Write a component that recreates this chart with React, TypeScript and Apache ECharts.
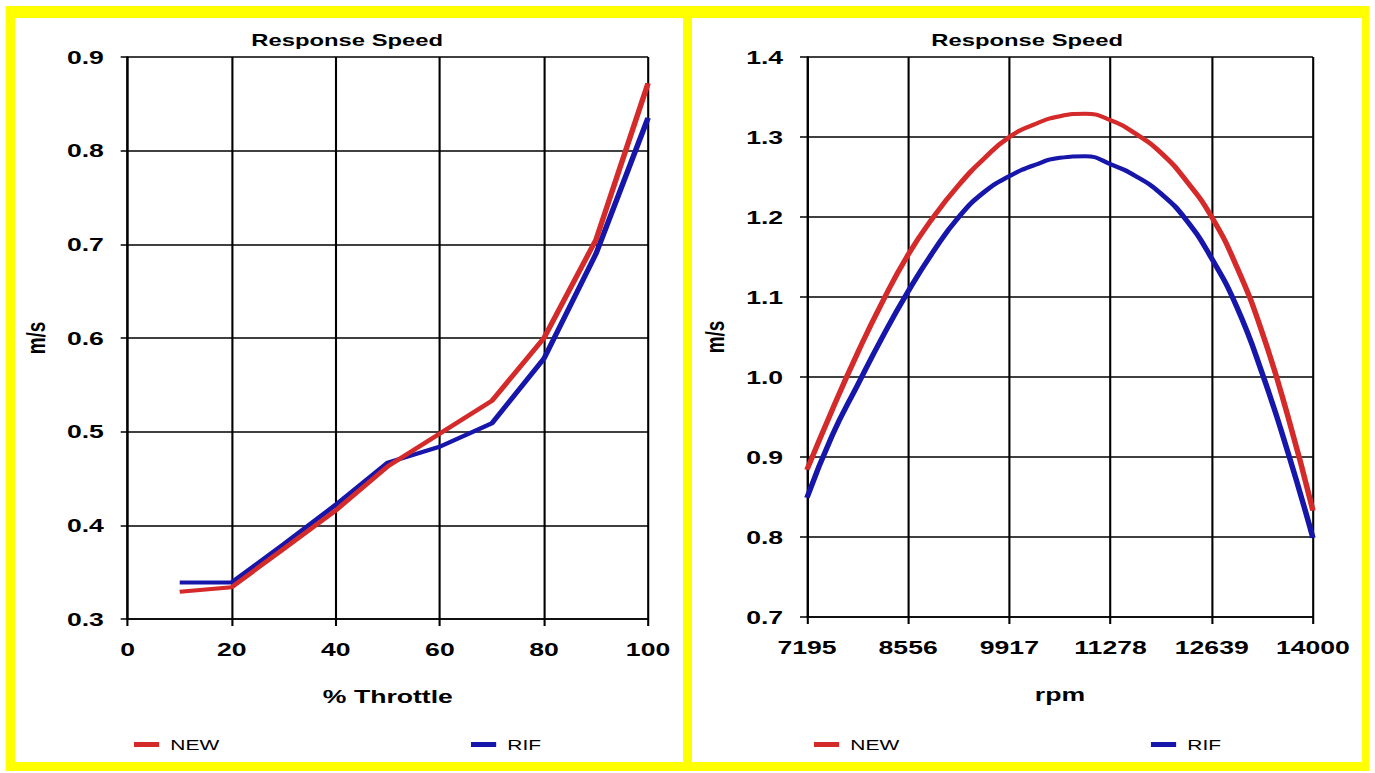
import React, { useEffect, useRef } from "react";
import * as echarts from "echarts";

// ---- data ----
const THROTTLE = [10, 20, 30, 40, 50, 60, 70, 80, 90, 100];
const THROTTLE_NEW = [0.329, 0.334, 0.375, 0.416, 0.463, 0.498, 0.533, 0.6, 0.705, 0.872];
const THROTTLE_RIF = [0.339, 0.339, 0.38, 0.422, 0.467, 0.484, 0.509, 0.578, 0.69, 0.835];

const RPM = [7195, 7535, 7876, 8216, 8556, 8896, 9237, 9577, 9917, 10257, 10598, 10938, 11278, 11618, 11959, 12299, 12639, 12979, 13320, 13660, 14000];
const RPM_NEW = [0.884, 0.959, 1.03, 1.095, 1.153, 1.2, 1.24, 1.273, 1.3, 1.316, 1.326, 1.329, 1.321, 1.304, 1.28, 1.245, 1.2, 1.137, 1.055, 0.952, 0.833];
const RPM_RIF = [0.849, 0.927, 0.99, 1.051, 1.107, 1.157, 1.2, 1.231, 1.251, 1.265, 1.274, 1.276, 1.266, 1.251, 1.229, 1.196, 1.148, 1.087, 1.004, 0.907, 0.799];

const RPM_MIN = 7195;
const RPM_MAX = 14000;
const RPM_STEP = 1361;

const TITLE = "Response Speed";
const Y_NAME = "m/s";
const X_NAMES = ["% Throttle", "rpm"];
const SERIES_NAMES = ["NEW", "RIF"];
const COLORS = ["#d42a2a", "#1616aa"];

// ---- layout ----
const SX = 1.4; // the reference is stretched horizontally
const W = 1375 / SX;
const H = 773;
const ARIAL = "'Liberation Sans', Arial, sans-serif";

const lineBlack = { color: "#000", width: 1.5 };
const tickFont = { fontFamily: ARIAL, fontWeight: "bold", fontSize: 19, color: "#000" };
const nameFont = { fontFamily: ARIAL, fontWeight: "bold", fontSize: 19, color: "#000" };

function makeOption() {
  const leftNew = THROTTLE.map((x, i) => [x, THROTTLE_NEW[i]]);
  const leftRif = THROTTLE.map((x, i) => [x, THROTTLE_RIF[i]]);
  const rightNew = RPM.map((x, i) => [x - RPM_MIN, RPM_NEW[i]]);
  const rightRif = RPM.map((x, i) => [x - RPM_MIN, RPM_RIF[i]]);

  const baseX = {
    type: "value",
    axisLine: { show: true, onZero: false, lineStyle: lineBlack },
    axisTick: { show: true, inside: false, length: 7, lineStyle: lineBlack },
    axisLabel: { margin: 21, ...tickFont },
    splitLine: { show: true, lineStyle: lineBlack },
    nameLocation: "middle",
    nameGap: 68,
    nameTextStyle: nameFont,
  };
  const baseY = {
    type: "value",
    axisLine: { show: true, onZero: false, lineStyle: lineBlack },
    axisTick: { show: true, inside: false, length: 5, lineStyle: lineBlack },
    axisLabel: { margin: 17, ...tickFont, formatter: (v: number) => v.toFixed(1) },
    splitLine: { show: true, lineStyle: lineBlack },
    name: Y_NAME,
    nameLocation: "middle",
    nameRotate: 90,
    nameGap: 56,
    nameTextStyle: nameFont,
  };

  const legendBase = {
    orient: "horizontal",
    icon: "rect",
    itemWidth: 18,
    itemHeight: 5,
    itemGap: 10,
    padding: 0,
    selectedMode: false,
    top: 737,
    textStyle: { fontFamily: ARIAL, fontSize: 15, color: "#000", padding: [0, 0, 0, 3] },
  };

  const lineSeries = (name: string, color: string, data: number[][], xi: number, smooth: boolean | number) => ({
    type: "line",
    name,
    color,
    xAxisIndex: xi,
    yAxisIndex: xi,
    data,
    smooth,
    showSymbol: false,
    symbol: "none",
    silent: true,
    lineStyle: { color, width: 4 },
    z: 3,
  });

  return {
    animation: false,
    backgroundColor: "#ffffff",
    graphic: [
      { type: "rect", z: -10, silent: true, shape: { x: 4, y: 6, width: W - 8, height: 765 }, style: { fill: "#ffff00" } },
      { type: "rect", z: -9, silent: true, shape: { x: 10.7, y: 18, width: 477.2, height: 744 }, style: { fill: "#ffffff" } },
      { type: "rect", z: -9, silent: true, shape: { x: 494.3, y: 18, width: 478.6, height: 744 }, style: { fill: "#ffffff" } },
    ],
    title: [
      { text: TITLE, left: 243, top: 26, textAlign: "center", textStyle: { fontFamily: ARIAL, fontWeight: "bold", fontSize: 17, color: "#000" } },
      { text: TITLE, left: 728.7, top: 26, textAlign: "center", textStyle: { fontFamily: ARIAL, fontWeight: "bold", fontSize: 17, color: "#000" } },
    ],
    legend: [
      { ...legendBase, data: [SERIES_NAMES[0]], left: 95.7 },
      { ...legendBase, data: [SERIES_NAMES[1]], left: 336.4 },
      { ...legendBase, data: [SERIES_NAMES[0]], left: 581.4 },
      { ...legendBase, data: [SERIES_NAMES[1]], left: 822.1 },
    ],
    grid: [
      { left: 91.2, top: 57, width: 371.7, height: 562, containLabel: false },
      { left: 576.4, top: 57, width: 361.4, height: 560, containLabel: false },
    ],
    xAxis: [
      { ...baseX, gridIndex: 0, min: 0, max: 100, interval: 20, name: X_NAMES[0] },
      {
        ...baseX,
        gridIndex: 1,
        min: 0,
        max: RPM_MAX - RPM_MIN,
        interval: RPM_STEP,
        name: X_NAMES[1],
        axisLabel: { ...baseX.axisLabel, formatter: (v: number) => String(v + RPM_MIN) },
      },
    ],
    yAxis: [
      { ...baseY, gridIndex: 0, min: 0.3, max: 0.9, interval: 0.1 },
      { ...baseY, gridIndex: 1, min: 0.7, max: 1.4, interval: 0.1 },
    ],
    series: [
      lineSeries(SERIES_NAMES[1], COLORS[1], leftRif, 0, false),
      lineSeries(SERIES_NAMES[0], COLORS[0], leftNew, 0, false),
      lineSeries(SERIES_NAMES[1], COLORS[1], rightRif, 1, 0.5),
      lineSeries(SERIES_NAMES[0], COLORS[0], rightNew, 1, 0.5),
    ],
  };
}

export default function App() {
  const ref = useRef<HTMLDivElement>(null);
  useEffect(() => {
    if (!ref.current) return;
    const chart = echarts.init(ref.current, undefined, { renderer: "svg" });
    chart.setOption(makeOption() as any);
    return () => chart.dispose();
  }, []);
  return (
    <div style={{ position: "absolute", left: 0, top: 0, width: 1375, height: H, overflow: "hidden", background: "#fff" }}>
      <div
        ref={ref}
        style={{ width: W, height: H, transform: `scaleX(${SX})`, transformOrigin: "0 0" }}
      />
    </div>
  );
}
